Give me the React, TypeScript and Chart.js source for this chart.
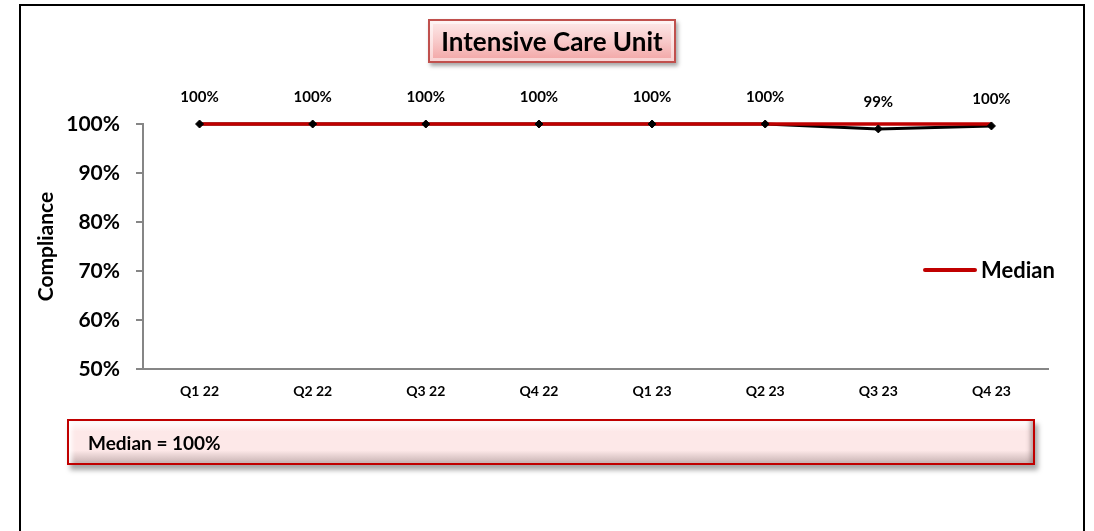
import React, { useEffect, useRef } from "react";
import { Chart, registerables } from "chart.js";

Chart.register(...registerables);

const categories = ["Q1 22", "Q2 22", "Q3 22", "Q4 22", "Q1 23", "Q2 23", "Q3 23", "Q4 23"];
const complianceValues = [100, 100, 100, 100, 100, 100, 99.0, 99.6];
const medianValues = [100, 100, 100, 100, 100, 100, 100, 100];
const yTicks = [50, 60, 70, 80, 90, 100];
const chartTitle = "Intensive Care Unit";
const yAxisTitle = "Compliance";
const legendLabel = "Median";
const medianText = "Median = 100%";

const FONT = "Lato, 'Open Sans', sans-serif";
const W = "bold";

const labelPlugin = {
  id: "pointLabels",
  afterDatasetsDraw(chart: any) {
    const meta = chart.getDatasetMeta(2);
    const ctx = chart.ctx;
    ctx.save();
    ctx.font = `${W} 15px ${FONT}`;
    ctx.fillStyle = "#000";
    ctx.textAlign = "center";
    ctx.textBaseline = "middle";
    meta.data.forEach((pt: any, i: number) => {
      const v = complianceValues[i];
      ctx.fillText(`${Math.round(v)}%`, pt.x, pt.y - 27);
    });
    ctx.restore();
  },
};

export default function App() {
  const ref = useRef<HTMLCanvasElement>(null);
  useEffect(() => {
    if (!ref.current) return;
    const chart = new Chart(ref.current, {
      type: "line",
      data: {
        labels: categories,
        datasets: [
          {
            label: "Compliance line",
            data: complianceValues,
            borderColor: "#000000",
            borderWidth: 3,
            pointRadius: 0,
            order: 3,
            clip: false as any,
          },
          {
            label: legendLabel,
            data: medianValues,
            borderColor: "#c00000",
            borderWidth: 3.5,
            pointRadius: 0,
            order: 2,
            clip: false as any,
          },
          {
            label: "Compliance",
            data: complianceValues,
            showLine: false,
            pointStyle: "rectRot",
            pointRadius: 4,
            pointBackgroundColor: "#000",
            pointBorderColor: "#000",
            order: 1,
            clip: false as any,
          },
        ],
      },
      options: {
        animation: false,
        responsive: false,
        layout: { padding: { left: 32, right: 46, top: 124, bottom: 100 } },
        plugins: {
          legend: { display: false },
          title: { display: false },
          tooltip: { enabled: false },
        },
        scales: {
          x: {
            offset: true,
            grid: { display: false, drawTicks: false },
            border: { display: true, color: "#868686", width: 2 },
            ticks: {
              padding: 14,
              color: "#000",
              font: { family: FONT, weight: W as any, size: 14 },
              maxRotation: 0,
            },
            afterFit: (s: any) => {
              s.height = 62;
            },
          },
          y: {
            min: 50,
            max: 100,
            afterBuildTicks: (s: any) => {
              s.ticks = yTicks.map((v) => ({ value: v }));
            },
            grid: { drawOnChartArea: false, drawTicks: true, tickLength: 7, color: "#868686", lineWidth: 2 },
            border: { display: true, color: "#868686", width: 2 },
            ticks: {
              padding: 16,
              color: "#000",
              font: { family: FONT, weight: W as any, size: 21 },
              callback: (v: any) => `${v}%`,
            },
            title: {
              display: true,
              text: yAxisTitle,
              color: "#000",
              font: { family: FONT, weight: W as any, size: 21 },
              padding: { top: 2, bottom: 0 },
            },
            afterFit: (s: any) => {
              s.width = 111;
            },
          },
        },
      },
      plugins: [labelPlugin],
    });
    return () => chart.destroy();
  }, []);

  return (
    <div style={{ position: "absolute", left: 0, top: 0, width: 1094, height: 531, overflow: "hidden", background: "#fff" }}>
      <div
        style={{
          position: "absolute",
          left: 19,
          top: 4,
          width: 1066,
          height: 560,
          border: "2px solid #000",
          boxSizing: "border-box",
        }}
      />
      <canvas ref={ref} width={1094} height={531} style={{ position: "absolute", left: 0, top: 0 }} />
      <div
        style={{
          position: "absolute",
          left: 428,
          top: 19,
          width: 248,
          height: 44,
          boxSizing: "border-box",
          border: "2px solid #c0504d",
          background: "linear-gradient(#fde9e9 0%, #f8caca 50%, #f2a5a5 100%)",
          boxShadow: "inset 0 0 0 3px rgba(255,255,255,0.5), 2px 3px 4px rgba(0,0,0,0.35)",
          display: "flex",
          alignItems: "center",
          justifyContent: "center",
          font: `${W} 26px ${FONT}`,
          color: "#000",
          whiteSpace: "nowrap",
        }}
      >
        {chartTitle}
      </div>
      <div style={{ position: "absolute", left: 923, top: 268, width: 54, height: 4, background: "#c00000", borderRadius: 2 }} />
      <div style={{ position: "absolute", left: 981, top: 256, font: `${W} 22px ${FONT}`, color: "#000", lineHeight: "28px" }}>
        {legendLabel}
      </div>
      <div
        style={{
          position: "absolute",
          left: 67,
          top: 419,
          width: 968,
          height: 46,
          boxSizing: "border-box",
          border: "2px solid #c00000",
          background: "linear-gradient(#ffffff 0%, #fde8e8 25%, #fde8e8 70%, #c9b4b4 100%)",
          boxShadow: "inset 6px 0 4px -3px rgba(255,255,255,0.9), inset -6px 0 4px -3px rgba(120,100,100,0.5), 3px 5px 5px rgba(0,0,0,0.35)",
          display: "flex",
          alignItems: "center",
          paddingLeft: 19,
          font: `${W} 19px ${FONT}`,
          color: "#000",
          whiteSpace: "nowrap",
        }}
      >
        {medianText}
      </div>
    </div>
  );
}
